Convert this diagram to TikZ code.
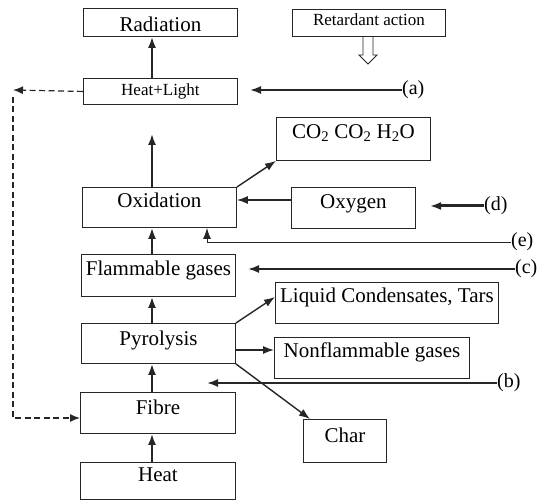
\documentclass[tikz,border=0pt]{standalone}
\usepackage{fontspec}
\setmainfont{Liberation Serif}
\usetikzlibrary{arrows.meta}
\begin{document}
\begin{tikzpicture}[x=1pt,y=-1pt,
  box/.style={draw=black!85, line width=0.9pt, inner sep=0pt, anchor=north west, font=\fontsize{21}{21}\selectfont},
  sbox/.style={box, font=\fontsize{17}{17}\selectfont},
  lbl/.style={inner sep=0pt, font=\fontsize{20}{20}\selectfont, anchor=west},
  arr/.style={draw=black!85, line width=1.8pt, -{Latex[length=11pt,width=8pt]}},
  sidearr/.style={arr, line width=1.4pt},
  thinarr/.style={draw=black!85, line width=1pt, -{Latex[length=11pt,width=8pt]}},
  dashline/.style={draw=black!85, line width=1.2pt, dash pattern=on 6pt off 3.5pt, -{Latex[length=10pt,width=8pt]}}
]
\useasboundingbox (0,0) rectangle (544,500);

% boxes
\node[box, minimum width=154pt, text height=23pt, text depth=5pt] (rad) at (83,8) {Radiation};
\node[sbox, minimum width=153pt, text height=16pt, text depth=11pt] (ret) at (292,9) {Retardant action};
\node[sbox, minimum width=154pt, text height=17pt, text depth=9pt] (hl) at (83,78) {Heat+Light};
\node[box, minimum width=154pt, text height=21pt, text depth=22pt] (co2) at (276,117) {CO\textsubscript{2} CO\textsubscript{2} H\textsubscript{2}O};
\node[box, minimum width=154pt, text height=20pt, text depth=20pt] (ox) at (82,187) {Oxidation};
\node[box, minimum width=124pt, text height=21pt, text depth=20pt] (oxy) at (291,187) {Oxygen};
\node[box, minimum width=154pt, text height=21pt, text depth=21pt] (flam) at (81,254) {Flammable gases};
\node[box, minimum width=223pt, text height=20pt, text depth=21pt] (liq) at (275,282) {Liquid Condensates, Tars};
\node[box, minimum width=154pt, text height=22pt, text depth=18pt] (pyro) at (81,323) {Pyrolysis};
\node[box, minimum width=195pt, text height=20pt, text depth=21pt] (nonf) at (274,337) {Nonflammable gases};
\node[box, minimum width=155pt, text height=22pt, text depth=19pt] (fibre) at (80,392) {Fibre};
\node[box, minimum width=83pt, text height=23pt, text depth=20pt] (char) at (303,419) {Char};
\node[box, minimum width=155pt, text height=19pt, text depth=18pt] (heat) at (80,462) {Heat};

% labels
\node[lbl] (la) at (402,90) {(a)};
\node[lbl] (lb) at (497,383) {(b)};
\node[lbl] (lc) at (515,269) {(c)};
\node[lbl] (ld) at (484,206) {(d)};
\node[lbl] (le) at (511,242) {(e)};

% coordinates
\coordinate (vx) at (152,0);
\coordinate (oxtip) at (152,134);
\coordinate (atip) at (250,90);
\coordinate (btip) at (207,383);
\coordinate (ctip) at (248,269);
\coordinate (dtip) at (430,206);
\coordinate (ex) at (207,0);
\coordinate (dl) at (13,90);
\coordinate (dl2) at (13,97);

% main column
\draw[arr] (hl.north -| vx) -- (rad.south -| vx);
\draw[arr] (ox.north -| vx) -- (oxtip);
\draw[arr] (flam.north -| vx) -- (ox.south -| vx);
\draw[arr] (pyro.north -| vx) -- (flam.south -| vx);
\draw[arr] (fibre.north -| vx) -- (pyro.south -| vx);
\draw[arr] (heat.north -| vx) -- (fibre.south -| vx);

% products
\draw[sidearr] (ox.north east) -- (co2.south west);
\draw[sidearr] (oxy.west |- 0,200) -- (ox.east |- 0,200);
\draw[sidearr] (pyro.north east) -- (liq.west |- 0,297);
\draw[sidearr] (pyro.east |- 0,350) -- (nonf.west |- 0,350);
\draw[sidearr] (pyro.south east) -- ([xshift=7pt]char.north west);

% retardant actions
\draw[arr] (la.west) -- (atip);
\draw[arr] (lb.west) -- (btip);
\draw[arr] (lc.west) -- (ctip);
\draw[arr, line width=3pt] (ld.west) -- (dtip);
\draw[thinarr] (le.west) -| (ox.south -| ex);

% feedback
\draw[dashline] (hl.west) -- (dl);
\draw[dashline] (dl2) |- (fibre.west |- 0,418);

% hollow arrow
\draw[draw=black!85, line width=0.8pt] (ret.south -| 363,0) -- (363,55) -- (359,55) -- (368,64) -- (377,55) -- (373,55) -- (ret.south -| 373,0);
\end{tikzpicture}
\end{document}
